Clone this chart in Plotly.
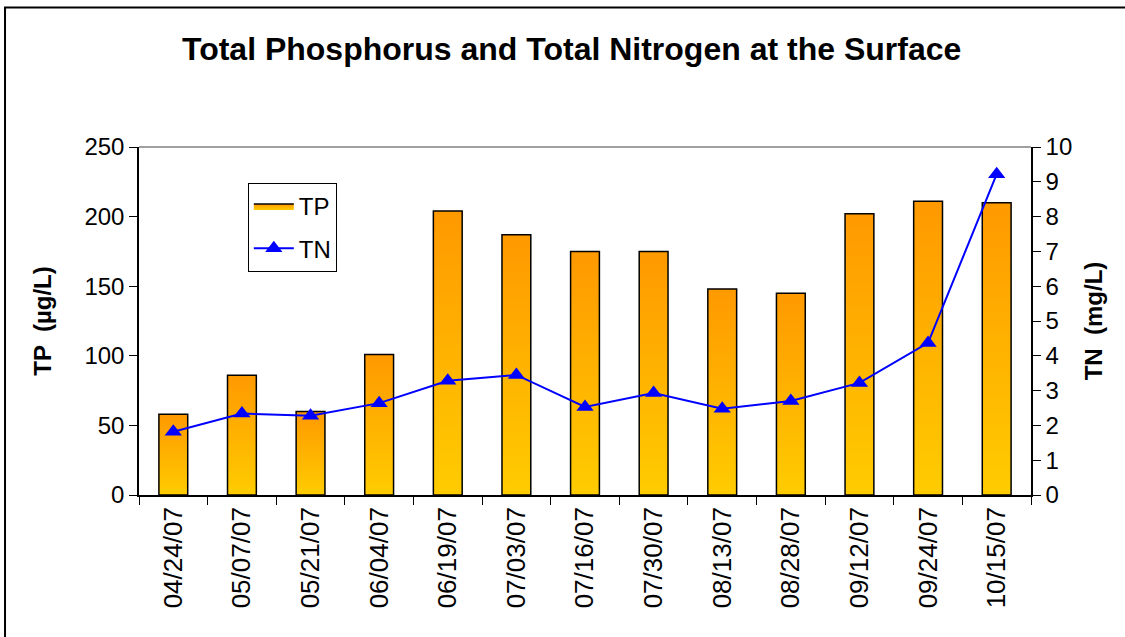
import plotly.graph_objects as go

dates = ["04/24/07", "05/07/07", "05/21/07", "06/04/07", "06/19/07", "07/03/07",
         "07/16/07", "07/30/07", "08/13/07", "08/28/07", "09/12/07", "09/24/07", "10/15/07"]
tp = [58, 86, 60, 101, 204, 187, 175, 175, 148, 145, 202, 211, 210]
tn = [1.82, 2.34, 2.28, 2.64, 3.28, 3.45, 2.53, 2.93, 2.48, 2.70, 3.22, 4.37, 9.22]
tp_ticks = [0, 50, 100, 150, 200, 250]
tn_ticks = list(range(0, 11))

FONT = "Liberation Sans, Arial, sans-serif"
BAR_W = 0.42
idx = list(range(len(dates)))

fig = go.Figure()
for i, v in zip(idx, tp):
    fig.add_trace(go.Scatter(
        x=[i - BAR_W / 2, i + BAR_W / 2, i + BAR_W / 2, i - BAR_W / 2, i - BAR_W / 2],
        y=[0, 0, v, v, 0],
        mode="lines", fill="toself",
        line=dict(color="black", width=1.5),
        fillcolor="#FFAA00",
        fillgradient=dict(type="vertical", colorscale=[[0, "#FFCC00"], [1, "#FF9900"]]),
        name="TP", legendgroup="TP", showlegend=(i == 0),
        hoverinfo="skip",
    ))

fig.add_trace(go.Scatter(
    x=idx, y=tn, yaxis="y2", mode="lines+markers", name="TN",
    line=dict(color="#0000FF", width=2),
    marker=dict(symbol="triangle-up", size=15, color="#0000FF"),
))

fig.update_layout(
    width=1125, height=637,
    paper_bgcolor="white", plot_bgcolor="white",
    margin=dict(l=139, r=94, t=147, b=142),
    font=dict(family=FONT, color="black", size=24),
    title=dict(text="<b>Total Phosphorus and Total Nitrogen at the Surface</b>",
               font=dict(size=32, family=FONT), x=0.485, xref="paper",
               y=1 - 49 / 637, yref="container", xanchor="center", yanchor="middle"),
    xaxis=dict(
        range=[-0.5, len(dates) - 0.5], tickmode="array", tickvals=idx, ticktext=dates,
        tickangle=-90, ticks="", showgrid=False, zeroline=False,
        showline=True, linecolor="black", linewidth=1.5,
        tickfont=dict(size=26),
        minor=dict(tickmode="array", tickvals=[i - 0.5 for i in range(len(dates) + 1)],
                   ticks="outside", ticklen=8, tickcolor="black", tickwidth=1, showgrid=False),
    ),
    yaxis=dict(
        range=[0, 250], tickvals=tp_ticks, ticks="outside", ticklen=8, tickcolor="black",
        showgrid=False, zeroline=False, showline=True, linecolor="black", linewidth=1.5,
        title=dict(text="<b>TP  (µg/L)</b>", font=dict(size=24), standoff=26),
        tickfont=dict(size=24),
    ),
    yaxis2=dict(
        range=[0, 10], tickvals=tn_ticks, ticks="outside", ticklen=8, tickcolor="black",
        overlaying="y", side="right", showgrid=False, zeroline=False,
        showline=True, linecolor="black", linewidth=1.5,
        title=dict(text="<b>TN  (mg/L)</b>", font=dict(size=24), standoff=14),
        tickfont=dict(size=24),
    ),
    legend=dict(x=0.122, y=0.8966, xanchor="left", yanchor="top",
                bordercolor="black", borderwidth=1, bgcolor="white",
                font=dict(size=24), tracegroupgap=8, itemwidth=40),
    showlegend=True,
    shapes=[
        dict(type="line", xref="paper", yref="paper", x0=0, x1=1, y0=1, y1=1,
             line=dict(color="#808080", width=1.5)),
        dict(type="rect", xref="paper", yref="paper", x0=-0.1502, x1=1.2, y0=-0.6, y1=1.4009,
             line=dict(color="black", width=2), fillcolor="rgba(0,0,0,0)", layer="above"),
    ],
)

fig.write_html("out.html", config={"displayModeBar": False},
               post_script="document.body.style.margin='0px';document.body.style.overflow='hidden';")
